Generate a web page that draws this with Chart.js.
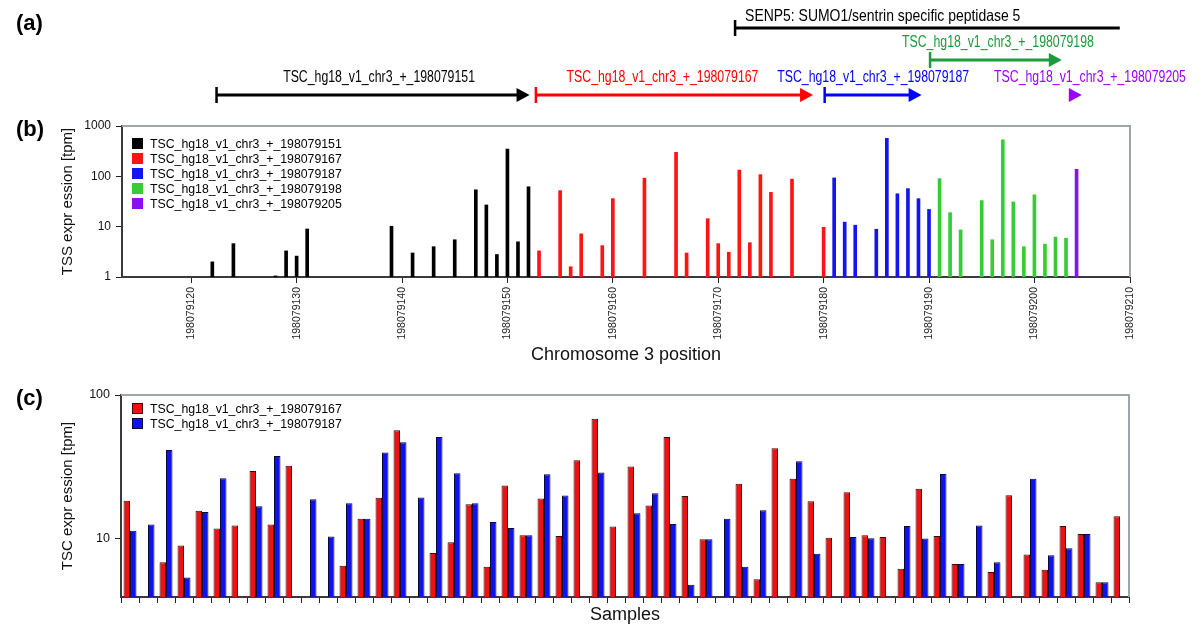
<!DOCTYPE html>
<html><head><meta charset="utf-8">
<script src="https://cdn.jsdelivr.net/npm/chart.js@4.4.0/dist/chart.umd.min.js"></script>
<style>
html,body{margin:0;padding:0;background:#fff;}
body{width:1200px;height:638px;position:relative;overflow:hidden;font-family:Arial,"Liberation Sans",Helvetica,sans-serif;color:#000;}
#cb{position:absolute;left:0;top:0;}
#cc{position:absolute;left:0;top:375px;}
.pl{position:absolute;font-weight:bold;font-size:22px;line-height:24px;}
.leg{position:absolute;font-size:12.3px;line-height:15px;z-index:2;}
.leg div{height:15px;white-space:nowrap;}
.leg span{display:inline-block;width:11px;height:11px;vertical-align:-1px;margin-right:7px;box-sizing:border-box;}
</style></head>
<body>
<canvas id="cb" width="1200" height="375"></canvas>
<canvas id="cc" width="1200" height="263"></canvas>
<div class="pl" style="left:16px;top:11px">(a)</div>
<div class="pl" style="left:16px;top:117px">(b)</div>
<div class="pl" style="left:16px;top:386px">(c)</div>
<div class="leg" id="legB" style="left:132px;top:137px"></div>
<div class="leg" id="legC" style="left:132px;top:402px"></div>
<script>
// ---------- Panel (b) data: TSS positions and expression [tpm] ----------
const seriesNames = ['TSC_hg18_v1_chr3_+_198079151','TSC_hg18_v1_chr3_+_198079167','TSC_hg18_v1_chr3_+_198079187','TSC_hg18_v1_chr3_+_198079198','TSC_hg18_v1_chr3_+_198079205'];
const blackPos = [198079122,198079124,198079128,198079129,198079130,198079131,198079139,198079141,198079143,198079145,198079147,198079148,198079149,198079150,198079151,198079152];
const blackVal = [2.0,4.6,1.05,3.3,2.6,9.0,10.2,3.0,4.0,5.5,54,27,2.8,346,5.0,62];
const redPos = [198079153,198079155,198079156,198079157,198079159,198079160,198079163,198079166,198079167,198079169,198079170,198079171,198079172,198079173,198079174,198079175,198079177,198079180];
const redVal = [3.3,52,1.6,7.2,4.2,36,92,300,3.0,14.4,4.6,3.1,133,4.8,108,48,88,9.7];
const bluePos = [198079181,198079182,198079183,198079185,198079186,198079187,198079188,198079189,198079190];
const blueVal = [93,12.3,10.7,8.9,570,45,57,36,22];
const greenPos = [198079191,198079192,198079193,198079195,198079196,198079197,198079198,198079199,198079200,198079201,198079202,198079203];
const greenVal = [90,19,8.6,33,5.5,530,31,4.0,43,4.5,6.2,5.9];
const purplePos = [198079204];
const purpleVal = [138];
const xTickLabels = ['198079120','198079130','198079140','198079150','198079160','198079170','198079180','198079190','198079200','198079210'];
const yTicksB = [1,10,100,1000];

// ---------- Panel (a) data: annotated regions (chromosome coordinates) ----------
const geneLabel = 'SENP5: SUMO1/sentrin specific peptidase 5';
const geneStart = 198079171.6, geneEnd = 198079208.1;
const tscStart = [198079122.4,198079152.7,198079180.1,198079190.1,198079203.2];
const tscEnd   = [198079152.1,198079179.0,198079189.3,198079202.6,198079204.5];

// ---------- Panel (c) data: per-sample expression [tpm] ----------
const sampleLabels = ['1','2','3','4','5','6','7','8','9','10','11','12','13','14','15','16','17','18','19','20','21','22','23','24','25','26','27','28','29','30','31','32','33','34','35','36','37','38','39','40','41','42','43','44','45','46','47','48','49','50','51','52','53','54','55','56'];
const cNames = ['TSC_hg18_v1_chr3_+_198079167','TSC_hg18_v1_chr3_+_198079187'];
const tsc167 = [18.4,null,6.9,9.0,15.7,11.8,12.4,29.7,12.6,32.3,null,null,6.5,13.8,19.3,56.9,null,8.0,9.5,17.4,6.4,23.5,10.6,19.1,10.5,35.2,68.4,12.2,31.8,17.1,51,19.9,9.95,null,24.2,5.25,42.7,26.2,18.3,10.2,21.1,10.6,10.3,6.2,22.3,10.5,6.7,null,5.9,20.1,7.8,6.1,12.3,10.8,5.0,14.4];
const tsc187 = [11.4,12.6,41.5,5.4,15.4,26.4,null,16.9,37.7,null,18.9,10.4,17.7,13.8,39.8,47.0,19.4,51,28.6,17.7,13.1,11.9,10.6,28.1,20.0,null,29.0,null,15.1,20.8,12.7,4.8,9.95,13.8,6.4,15.8,null,34.7,7.9,null,10.3,10.1,null,12.3,10.05,28.3,6.7,12.4,6.9,null,26.2,7.7,8.6,10.8,5.0,null];
const yTicksC = [10,100];

// ---------- styles ----------
const FONT = 'Arial, "Liberation Sans", Helvetica, sans-serif';
Chart.defaults.font.family = FONT;
Chart.defaults.color = '#111';
const barColorsB = ['#000000','#ff1414','#1414ee','#36cc36','#8a10ee'];
const annColors = ['#000000','#ff0000','#0000ff','#1a9b3c','#9b00ff'];
const labelShift = [6,-12,0,2,15];
const X_MIN = 198079113.43, X_MAX = 198079209.07;

function pts(p, v){ return p.map((x,i)=>({x:x, y:v[i]})); }

function narrowText(c, txt, x, y, size, sx, align){
  c.save();
  c.font = size + 'px ' + FONT;
  c.textBaseline = 'middle';
  c.textAlign = align;
  c.translate(x, y); c.scale(sx, 1.05);
  c.fillText(txt, 0, 0);
  c.restore();
}

const frame = {
  id:'frame',
  afterDraw(chart){
    const a = chart.chartArea, c = chart.ctx;
    c.save(); c.strokeStyle = '#9ea5ab'; c.lineWidth = 2;
    c.beginPath(); c.moveTo(a.left, a.top); c.lineTo(a.right, a.top); c.lineTo(a.right, a.bottom); c.stroke();
    c.restore();
  }
};

const annot = {
  id:'annot',
  afterDraw(chart){
    const xs = chart.scales.x, c = chart.ctx;
    c.save();
    let g1 = xs.getPixelForValue(geneStart), g2 = xs.getPixelForValue(geneEnd);
    c.strokeStyle = '#000'; c.lineWidth = 3;
    c.beginPath(); c.moveTo(g1, 28); c.lineTo(g2, 28); c.stroke();
    c.lineWidth = 2.5; c.beginPath(); c.moveTo(g1, 20); c.lineTo(g1, 36); c.stroke();
    c.fillStyle = '#000';
    narrowText(c, geneLabel, g1 + 10, 17, 15.5, 0.9, 'left');
    const rowY = [95,95,95,60,95];
    seriesNames.forEach((n,i)=>{
      const x1 = xs.getPixelForValue(tscStart[i]), x2 = xs.getPixelForValue(tscEnd[i]);
      const y = rowY[i], col = annColors[i], head = 13;
      c.strokeStyle = col; c.fillStyle = col;
      if (x2 - x1 > head + 2){
        c.lineWidth = 3; c.beginPath(); c.moveTo(x1, y); c.lineTo(x2 - head + 1, y); c.stroke();
        c.lineWidth = 2.5; c.beginPath(); c.moveTo(x1, y-8); c.lineTo(x1, y+8); c.stroke();
      }
      c.beginPath(); c.moveTo(x2, y); c.lineTo(x2 - head, y - 7); c.lineTo(x2 - head, y + 7); c.closePath(); c.fill();
      narrowText(c, n, (x1 + x2)/2 + labelShift[i], y - 17, 15, 0.82, 'center');
    });
    c.restore();
  }
};

new Chart(document.getElementById('cb'), {
  type:'bar',
  data:{ datasets:[
    {label:seriesNames[0], data:pts(blackPos,blackVal), backgroundColor:barColorsB[0]},
    {label:seriesNames[1], data:pts(redPos,redVal), backgroundColor:barColorsB[1]},
    {label:seriesNames[2], data:pts(bluePos,blueVal), backgroundColor:barColorsB[2]},
    {label:seriesNames[3], data:pts(greenPos,greenVal), backgroundColor:barColorsB[3]},
    {label:seriesNames[4], data:pts(purplePos,purpleVal), backgroundColor:barColorsB[4]}
  ]},
  options:{
    responsive:false, animation:false, devicePixelRatio:1,
    layout:{padding:{top:126,left:0,right:70,bottom:5}},
    plugins:{legend:{display:false}, tooltip:{enabled:false}},
    datasets:{bar:{grouped:false, barThickness:3}},
    scales:{
      x:{type:'linear', min:X_MIN, max:X_MAX, offset:false,
         afterBuildTicks:(s)=>{ s.ticks = xTickLabels.map((t,i)=>({value: i===xTickLabels.length-1 ? X_MAX : Number(t)})); },
         ticks:{autoSkip:false, minRotation:90, maxRotation:90, font:{size:10.5}, color:'#222', padding:4,
                callback:(v,i)=>xTickLabels[i]},
         grid:{drawOnChartArea:false, tickLength:6, color:'#222', offset:false},
         border:{color:'#3a3a3a', width:2},
         title:{display:true, text:'Chromosome 3 position', font:{size:18}, color:'#111', padding:{top:4,bottom:4}},
         afterFit:(s)=>{ s.height = 93; }},
      y:{type:'logarithmic', min:1, max:1000,
         afterBuildTicks:(s)=>{ s.ticks = yTicksB.map(v=>({value:v})); },
         ticks:{callback:(v)=>String(v), font:{size:12}, color:'#111', padding:5},
         grid:{drawOnChartArea:false, tickLength:6, color:'#222'},
         border:{color:'#3a3a3a', width:2},
         title:{display:true, text:'TSS expr ession [tpm]', font:{size:15}, color:'#111', padding:{top:59,bottom:0}},
         afterFit:(s)=>{ s.width = 122; }}
    }
  },
  plugins:[frame, annot]
});

new Chart(document.getElementById('cc'), {
  type:'bar',
  data:{ labels:sampleLabels, datasets:[
    {label:cNames[0], data:tsc167, backgroundColor:'#ee1111', borderColor:'#3a0a0a', borderWidth:1},
    {label:cNames[1], data:tsc187, backgroundColor:'#1111ee', borderColor:'#0a0a3a', borderWidth:1}
  ]},
  options:{
    responsive:false, animation:false, devicePixelRatio:1,
    layout:{padding:{top:20,left:0,right:71,bottom:8}},
    plugins:{legend:{display:false}, tooltip:{enabled:false}},
    datasets:{bar:{categoryPercentage:0.72, barPercentage:1.0}},
    scales:{
      x:{type:'category', offset:true,
         ticks:{display:false},
         grid:{drawOnChartArea:false, tickLength:6, color:'#222', offset:true},
         border:{color:'#3a3a3a', width:2},
         title:{display:true, text:'Samples', font:{size:18}, color:'#111', padding:{top:4,bottom:4}},
         afterFit:(s)=>{ s.height = 33; }},
      y:{type:'logarithmic', min:3.95, max:100,
         afterBuildTicks:(s)=>{ s.ticks = yTicksC.map(v=>({value:v})); },
         ticks:{callback:(v)=>String(v), font:{size:12.5}, color:'#111', padding:5},
         grid:{drawOnChartArea:false, tickLength:6, color:'#222'},
         border:{color:'#3a3a3a', width:2},
         title:{display:true, text:'TSC expr ession [tpm]', font:{size:15}, color:'#111', padding:{top:59,bottom:0}},
         afterFit:(s)=>{ s.width = 121; }}
    }
  },
  plugins:[frame]
});

const legB = document.getElementById('legB');
seriesNames.forEach((n,i)=>{ legB.insertAdjacentHTML('beforeend', '<div><span style="background:'+barColorsB[i]+'"></span>'+n+'</div>'); });
const legC = document.getElementById('legC');
[['#ee1111','#3a0a0a'],['#1111ee','#0a0a3a']].forEach((c,i)=>{ legC.insertAdjacentHTML('beforeend', '<div><span style="background:'+c[0]+';border:1px solid '+c[1]+'"></span>'+cNames[i]+'</div>'); });
</script>
</body></html>
